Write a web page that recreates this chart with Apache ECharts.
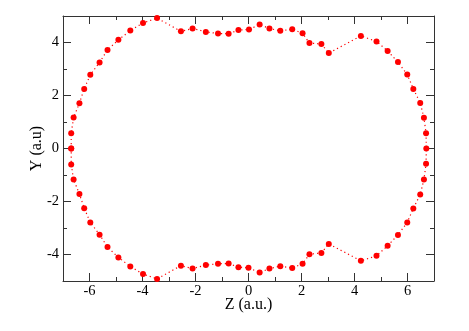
<!DOCTYPE html>
<html>
<head>
    <meta charset="utf-8">
    <title>Y vs Z</title>
    <script src="https://cdn.jsdelivr.net/npm/echarts@6/dist/echarts.min.js"></script>
    <style>
        html, body { margin: 0; padding: 0; background: #fff; }
        #chart { width: 469px; height: 331px; }
    </style>
</head>
<body>
<div id="chart"></div>
<script>
    // upper half, left to right
    var zTop = [-6.69, -6.69, -6.60, -6.38, -6.20, -5.97, -5.62, -5.32, -4.91, -4.46, -3.98, -3.45,
        -2.55, -2.11, -1.61, -1.15, -0.75, -0.38, 0.02, 0.42, 0.79, 1.20, 1.65, 2.04, 2.30, 2.75, 3.03,
        4.24, 4.83, 5.25, 5.64, 5.99, 6.22, 6.48, 6.62, 6.70, 6.71];
    var yTop = [0.00, 0.58, 1.17, 1.71, 2.25, 2.78, 3.25, 3.72, 4.10, 4.45, 4.74, 4.92,
        4.42, 4.53, 4.40, 4.34, 4.33, 4.47, 4.49, 4.68, 4.53, 4.44, 4.50, 4.35, 3.98, 3.94, 3.60,
        4.25, 4.04, 3.68, 3.26, 2.79, 2.25, 1.72, 1.16, 0.58, 0.00];
    // lower half, right to left
    var zBot = [6.70, 6.62, 6.48, 6.22, 5.99, 5.64, 5.25, 4.83, 4.24, 3.03, 2.75, 2.30, 2.04,
        1.65, 1.20, 0.79, 0.42, 0.00, -0.38, -0.75, -1.15, -1.61, -2.11, -2.55, -3.45, -3.98,
        -4.46, -4.91, -5.32, -5.62, -5.97, -6.20, -6.38, -6.60, -6.69];
    var yBot = [-0.58, -1.17, -1.74, -2.26, -2.79, -3.26, -3.67, -4.05, -4.24, -3.60, -3.94, -3.99, -4.35,
        -4.51, -4.44, -4.53, -4.68, -4.50, -4.48, -4.34, -4.35, -4.40, -4.53, -4.42, -4.92, -4.74,
        -4.45, -4.11, -3.72, -3.25, -2.79, -2.25, -1.72, -1.17, -0.60];

    var zTicks = [-6, -4, -2, 0, 2, 4, 6];
    var yTicks = [-4, -2, 0, 2, 4];

    var points = [];
    for (var i = 0; i < zTop.length; i++) points.push([zTop[i], yTop[i]]);
    for (var j = 0; j < zBot.length; j++) points.push([zBot[j], yBot[j]]);
    points.push([zTop[0], yTop[0]]); // close the loop

    var font = 'Liberation Serif';
    var lineColor = '#333';

    function axis(pos, isX, main) {
        var a = {
            type: 'value',
            position: pos,
            min: isX ? -7 : -5,
            max: isX ? 7 : 5,
            interval: 1,
            splitLine: {show: false},
            axisLine: {show: main, onZero: false, lineStyle: {color: lineColor, width: 1}},
            axisTick: {show: true, inside: true, length: 4, lineStyle: {color: lineColor}},
            axisLabel: {show: false}
        };
        if (!main) {
            a.axisTick = {show: true, inside: true, length: 8, customValues: isX ? zTicks : yTicks,
                lineStyle: {color: lineColor}};
        }
        return a;
    }

    var xBottom = axis('bottom', true, true);
    xBottom.axisLabel = {show: true, customValues: zTicks, fontFamily: font, fontSize: 14.5, color: '#000', margin: 3};
    xBottom.name = 'Z (a.u.)';
    xBottom.nameLocation = 'middle';
    xBottom.nameGap = 16;
    xBottom.nameMoveOverlap = false;
    xBottom.nameTextStyle = {fontFamily: font, fontSize: 16, color: '#000'};

    var yLeft = axis('left', false, true);
    yLeft.axisLabel = {show: true, customValues: yTicks, fontFamily: font, fontSize: 14.5, color: '#000', margin: 4};
    yLeft.name = 'Y (a.u)';
    yLeft.nameLocation = 'middle';
    yLeft.nameGap = 18.5;
    yLeft.nameMoveOverlap = false;
    yLeft.nameTextStyle = {fontFamily: font, fontSize: 16, color: '#000'};

    var chart = echarts.init(document.getElementById('chart'));
    chart.setOption({
        animation: false,
        grid: {left: 63, right: 35, top: 16, bottom: 50, containLabel: false, outerBoundsMode: 'none'},
        xAxis: [xBottom, axis('bottom', true, false), axis('top', true, true), axis('top', true, false)],
        yAxis: [yLeft, axis('left', false, false), axis('right', false, true), axis('right', false, false)],
        series: [{
            type: 'line',
            data: points,
            xAxisIndex: 0,
            yAxisIndex: 0,
            symbol: 'circle',
            symbolSize: 6,
            itemStyle: {color: '#ff0000'},
            lineStyle: {color: '#ff0000', width: 1.2, type: [1.2, 3]}
        }]
    });
</script>
</body>
</html>
